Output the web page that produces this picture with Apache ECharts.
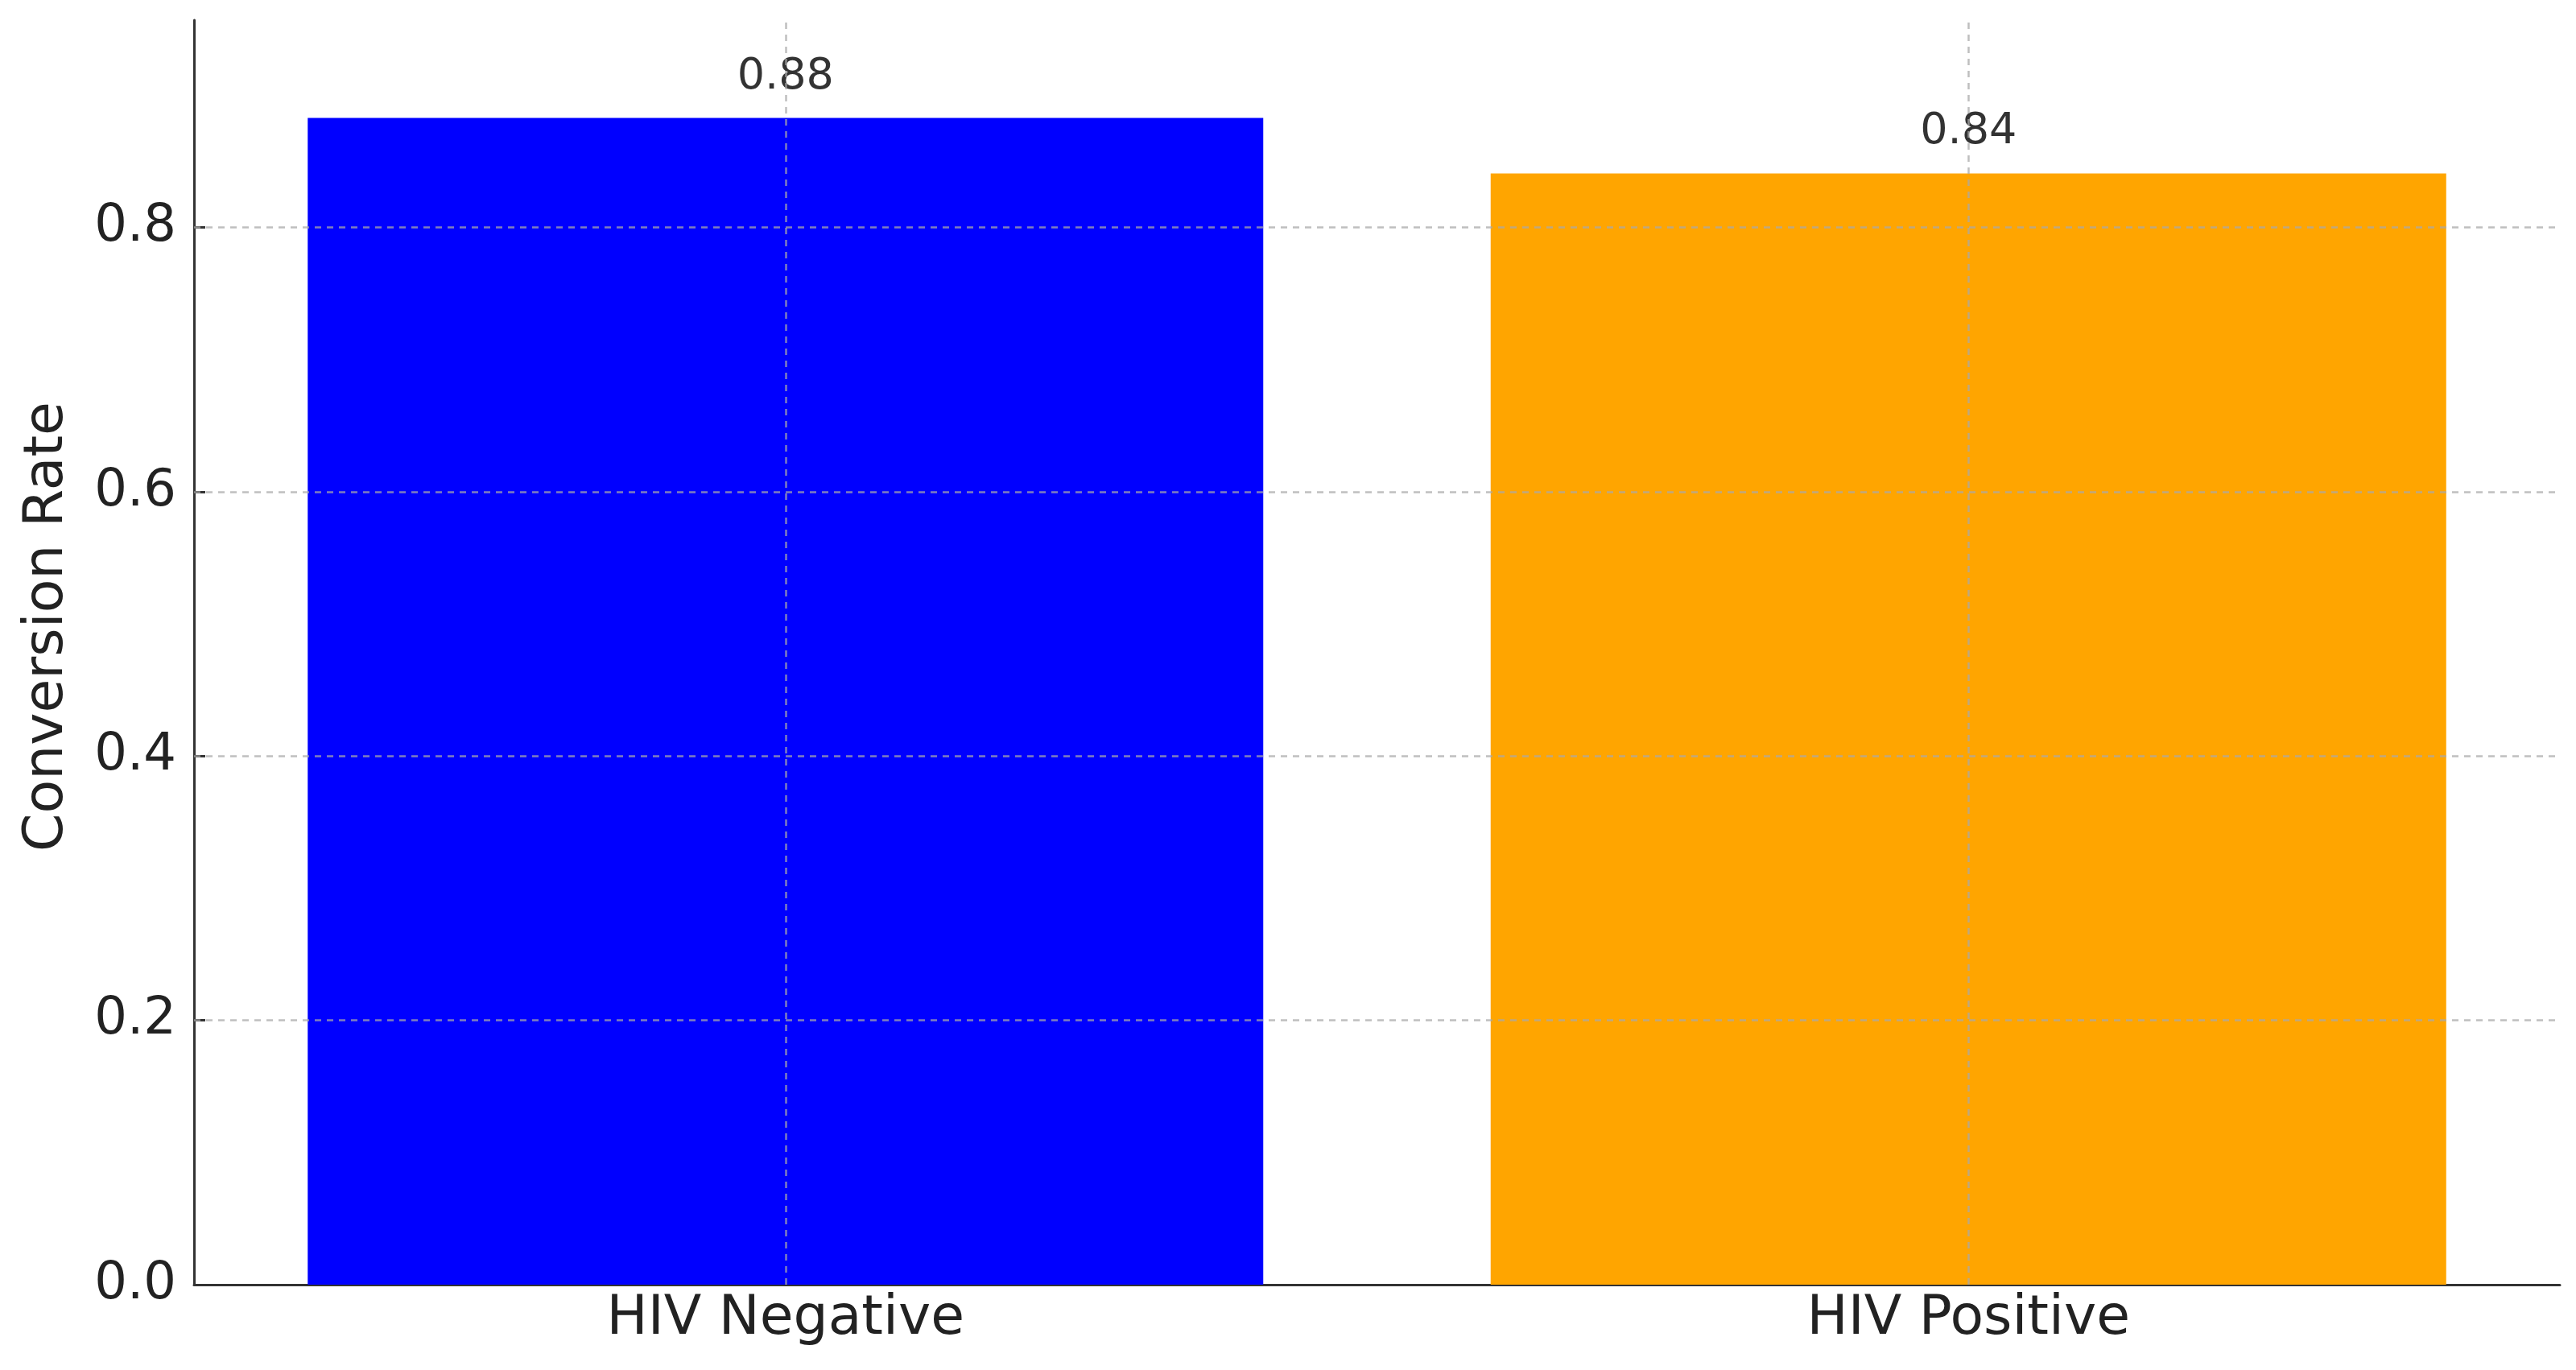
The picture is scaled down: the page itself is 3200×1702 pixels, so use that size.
<!DOCTYPE html>
<html>
<head>
<meta charset="utf-8">
<script src="https://cdn.jsdelivr.net/npm/echarts@6/dist/echarts.min.js"></script>
<style>
html,body{margin:0;padding:0;background:#fff;}
#chart{width:3200px;height:1702px;}
</style>
</head>
<body>
<div id="chart"></div>
<script>
const categories = ['HIV Negative', 'HIV Positive'];
const conversionRates = [0.883, 0.841];
const barColors = ['#0000FF', '#FFA500'];
const yTicks = [0, 0.2, 0.4, 0.6, 0.8];
const yMax = 0.957;
const yAxisTitle = 'Conversion Rate';

const font = '"DejaVu Sans", "Liberation Sans", sans-serif';
const gridLineStyle = { color: 'rgba(170,170,170,0.75)', width: 2.5, type: [8, 7] };

const markLineData = []
  .concat(yTicks.filter(v => v > 0).map(v => ({ yAxis: v })))
  .concat(categories.map(c => ({ xAxis: c })));

const chart = echarts.init(document.getElementById('chart'));
chart.setOption({
  animation: false,
  backgroundColor: '#ffffff',
  grid: { left: 241, right: 20, top: 25, bottom: 106, containLabel: false, outerBoundsMode: 'none' },
  xAxis: {
    type: 'category',
    data: categories,
    boundaryGap: true,
    axisLine: { show: true, lineStyle: { color: '#333333', width: 3 } },
    axisTick: { show: true, alignWithLabel: true, inside: true, length: 10, lineStyle: { color: '#333333', width: 3 } },
    axisLabel: { fontFamily: font, fontSize: 68, color: '#222222', margin: 9 },
    splitLine: { show: false }
  },
  yAxis: {
    type: 'value',
    min: 0,
    max: yMax,
    interval: 0.2,
    name: yAxisTitle,
    nameLocation: 'middle',
    nameGap: 148,
    nameTextStyle: { fontFamily: font, fontSize: 68, color: '#222222', padding: [0, 0, 0, 64] },
    axisLine: { show: true, lineStyle: { color: '#333333', width: 3 } },
    axisTick: { show: true, inside: true, length: 14, customValues: yTicks, lineStyle: { color: '#333333', width: 3 } },
    axisLabel: {
      fontFamily: font, fontSize: 64, color: '#222222', margin: 22,
      customValues: yTicks,
      formatter: v => v.toFixed(1)
    },
    splitLine: { show: false }
  },
  series: [{
    type: 'bar',
    data: conversionRates.map((v, i) => ({ value: v, itemStyle: { color: barColors[i] } })),
    barWidth: 1187,
    label: {
      show: true,
      position: 'top',
      distance: 24,
      fontFamily: font,
      fontSize: 54,
      color: '#333333',
      formatter: p => p.value.toFixed(2)
    },
    markLine: {
      silent: true,
      symbol: 'none',
      label: { show: false },
      lineStyle: gridLineStyle,
      emphasis: { disabled: true },
      data: markLineData
    }
  }]
});
</script>
</body>
</html>
